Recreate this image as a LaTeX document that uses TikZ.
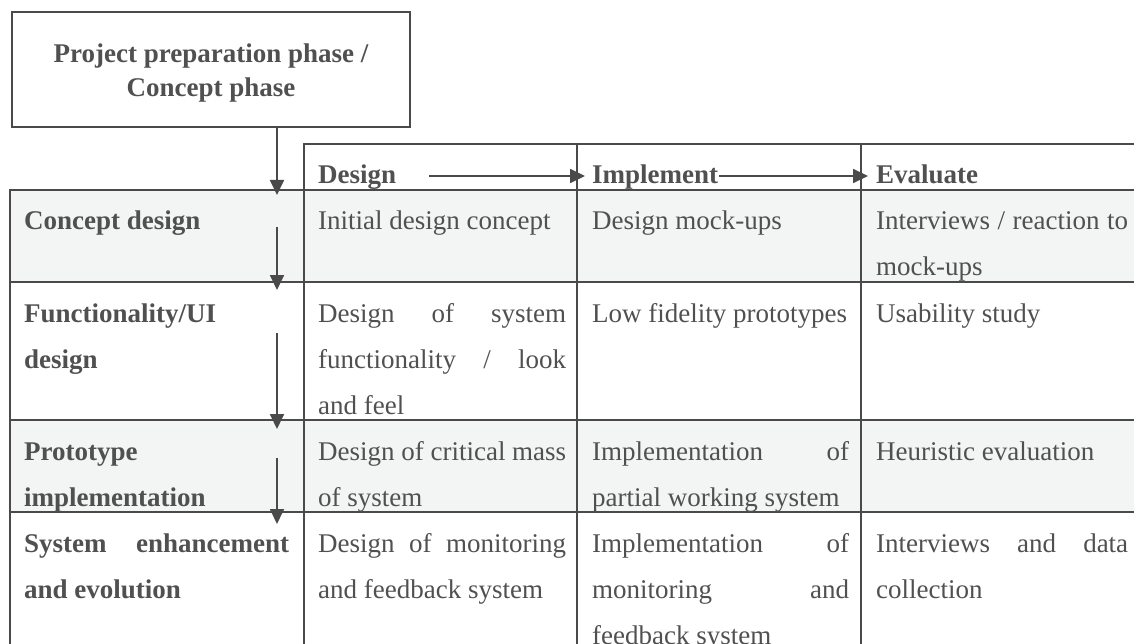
\documentclass[tikz,border=0pt]{standalone}
\usepackage{fontspec}
\setmainfont{Liberation Serif}
\usetikzlibrary{arrows.meta}
\definecolor{linegray}{HTML}{4A4A4A}
\definecolor{inkgray}{HTML}{505050}
\definecolor{rowgray}{HTML}{F3F4F4}
\hyphenpenalty=10000
\exhyphenpenalty=10000
\tikzset{
  rule/.style={draw=linegray, line width=1.8pt},
  flow/.style={draw=linegray, line width=1.8pt, -{Triangle[length=15pt,width=14pt]}},
  cell/.style={anchor=base west, inner sep=0pt, text=inkgray, align=justify,
    font=\fontsize{27}{46}\selectfont},
  stagecell/.style={cell, font=\fontsize{27}{46}\selectfont\bfseries},
  head/.style={anchor=base west, inner sep=0pt, text=inkgray,
    font=\fontsize{27}{46}\selectfont\bfseries},
}
\begin{document}
\begin{tikzpicture}[x=1pt,y=-1pt]
  \useasboundingbox (0,0) rectangle (1134,644);
  % shaded rows
  \fill[rowgray] (10,190) rectangle (1134,282);
  \fill[rowgray] (10,420) rectangle (1134,512);
  % grid
  \draw[rule] (1134,144) -- (304,144) -- (304,644);
  \draw[rule] (1134,190) -- (10,190) -- (10,644);
  \draw[rule] (577,144) -- (577,644);
  \draw[rule] (861,144) -- (861,644);
  \foreach \y in {282,420,512}
    \draw[rule] (10,\y) -- (1134,\y);
  % phase box
  \node[draw=linegray, line width=1.8pt, minimum width=398pt, minimum height=115pt,
    inner sep=0pt] (phase) at (211,69.5) {};
  \node[inner sep=0pt, text=inkgray, align=center,
    font=\fontsize{27}{34}\selectfont\bfseries] (phasetext) at (211,73)
    {Project preparation phase /\\Concept phase};
  % header
  \node[head] (hd) at (318,184) {Design};
  \node[head] (hi) at (592,184) {Implement};
  \node[head] (he) at (876,184) {Evaluate};
  \draw[flow] ([xshift=33pt,yshift=8pt]hd.base east) -- ([xshift=-7pt,yshift=8pt]hi.base west);
  \draw[flow] ([xshift=1pt,yshift=8pt]hi.base east) -- ([xshift=-8pt,yshift=8pt]he.base west);
  % stages
  \node[stagecell, text width=265pt] (c1) at (24,230) {Concept design};
  \node[stagecell, text width=265pt] (c2) at (24,322) {Functionality/UI\linebreak design};
  \node[stagecell, text width=265pt] (c3) at (24,460) {Prototype\linebreak implementation};
  \node[stagecell, text width=265pt] (c4) at (24,552) {System enhancement\linebreak and evolution};
  % design column
  \node[cell, text width=248pt] (d1) at (318,230) {Initial design concept};
  \node[cell, text width=248pt] (d2) at (318,322) {Design of system\linebreak functionality / look\linebreak and feel};
  \node[cell, text width=248pt] (d3) at (318,460) {Design of critical mass\linebreak of system};
  \node[cell, text width=248pt] (d4) at (318,552) {Design of monitoring\linebreak and feedback system};
  % implement column
  \node[cell, text width=257pt] (i1) at (592,230) {Design mock-ups};
  \node[cell, text width=257pt] (i2) at (592,322) {Low fidelity prototypes};
  \node[cell, text width=257pt] (i3) at (592,460) {Implementation of\linebreak partial working system};
  \node[cell, text width=257pt] (i4) at (592,552) {Implementation of\linebreak monitoring and\linebreak feedback system};
  % evaluate column
  \node[cell, text width=252pt] (e1) at (876,230) {Interviews / reaction to\linebreak mock-ups};
  \node[cell, text width=252pt] (e2) at (876,322) {Usability study};
  \node[cell, text width=252pt] (e3) at (876,460) {Heuristic evaluation};
  \node[cell, text width=252pt] (e4) at (876,552) {Interviews and data\linebreak collection};
  % stage arrows
  \coordinate (v1) at (277,195);
  \coordinate (s2) at (277,227);
  \coordinate (v2) at (277,290);
  \coordinate (s3) at (277,333);
  \coordinate (v3) at (277,429);
  \coordinate (s4) at (277,458);
  \coordinate (v4) at (277,524);
  \draw[flow] (phase.south -| v1) -- (v1);
  \draw[flow] (s2) -- (v2);
  \draw[flow] (s3) -- (v3);
  \draw[flow] (s4) -- (v4);
\end{tikzpicture}
\end{document}
